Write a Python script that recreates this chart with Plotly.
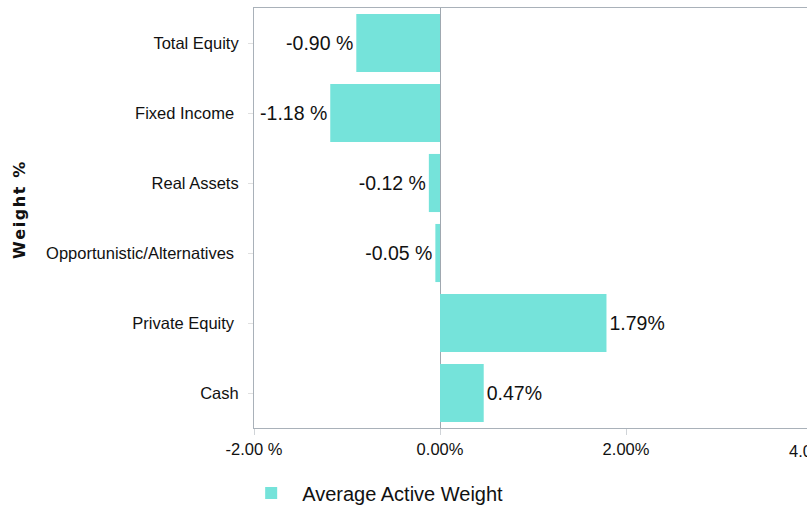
import plotly.graph_objects as go

categories = ["Total Equity", "Fixed Income", "Real Assets",
              "Opportunistic/Alternatives", "Private Equity", "Cash"]
tick_labels = ["Total Equity", "Fixed Income\u00a0", "Real Assets",
               "Opportunistic/Alternatives\u00a0", "Private Equity\u00a0", "Cash"]
values = [-0.90, -1.18, -0.12, -0.05, 1.79, 0.47]
series_name = "Average Active Weight"
axis_title = "Weight %"
x_tickvals = [-2, 0, 2, 4]
x_ticktext = ["-2.00 %", "0.00%", "2.00%", "4.00%"]
x_range = [-2, 3.946]

def fmt(v):
    return f"{v:.2f} %" if v < 0 else f"{v:.2f}%"

labels = [fmt(v) for v in values]

FONT = "Liberation Sans Narrow, Arial Narrow, Liberation Sans, Arial, sans-serif"
BAR = "#75E3DA"
AXIS = "#A9B1B9"
TXT = "#111111"

W, H = 807, 507
ML, MR, MT, MB = 254, 0, 8, 79
plot_w = W - ML - MR
plot_h = H - MT - MB

fig = go.Figure()
fig.add_trace(go.Bar(
    y=categories, x=values, orientation="h", name=series_name,
    marker=dict(color=BAR, line=dict(width=0)),
    text=labels, textposition="outside", cliponaxis=False,
    textfont=dict(family=FONT, size=19.5, color=TXT),
    showlegend=True,
))

shown_vals = [v for v in x_tickvals if x_range[0] <= v <= x_range[1]]
shown_text = [t for v, t in zip(x_tickvals, x_ticktext) if x_range[0] <= v <= x_range[1]]

annotations = []
# tick labels lying past the right edge of the window (only partly visible)
for v, t in zip(x_tickvals, x_ticktext):
    if v > x_range[1]:
        annotations.append(dict(
            x=(v - x_range[0]) / (x_range[1] - x_range[0]), xref="paper",
            y=-(451 - (MT + plot_h)) / plot_h, yref="paper", showarrow=False,
            text=t, font=dict(family=FONT, size=16.5, color=TXT),
            xanchor="center", yanchor="middle"))

annotations.append(dict(
    x=(20 - ML) / plot_w, xref="paper", y=(428 - 211) / plot_h, yref="paper",
    showarrow=False,
    text="<b>" + "\u200a".join(list(axis_title)) + "</b>",
    textangle=-90,
    font=dict(family="DejaVu Sans, Verdana, sans-serif", size=16, color=TXT),
    xanchor="center", yanchor="middle"))

fig.update_layout(
    width=W, height=H,
    margin=dict(l=ML, r=MR, t=MT, b=MB, autoexpand=False),
    paper_bgcolor="white", plot_bgcolor="white",
    bargap=0.17,
    font=dict(family=FONT, color=TXT),
    xaxis=dict(
        range=x_range, tickvals=shown_vals, ticktext=shown_text,
        showgrid=False, zeroline=True, zerolinecolor="#A0A8B0", zerolinewidth=1,
        showline=True, linecolor=AXIS, linewidth=1, mirror=True,
        ticks="outside", ticklen=6, tickcolor="#D0D4D8",
        tickfont=dict(family=FONT, size=16.5, color=TXT),
        automargin=False,
    ),
    yaxis=dict(
        categoryorder="array", categoryarray=categories, autorange="reversed",
        tickvals=categories, ticktext=tick_labels,
        showgrid=False, zeroline=False,
        showline=True, linecolor=AXIS, linewidth=1, mirror=True,
        ticks="outside", ticklen=5, tickcolor="#E0E0E0",
        ticklabelstandoff=6,
        tickfont=dict(family=FONT, size=16.5, color=TXT),
        automargin=False,
    ),
    legend=dict(
        orientation="h", x=-0.025, xanchor="left",
        y=14 / H, yref="container", yanchor="middle",
        itemwidth=52,
        font=dict(family=FONT, size=20, color=TXT),
    ),
    annotations=annotations,
)

fig.write_html(
    "out.html",
    config={"displayModeBar": False},
    post_script="document.body.style.margin='0px';document.body.style.overflow='hidden';",
)
